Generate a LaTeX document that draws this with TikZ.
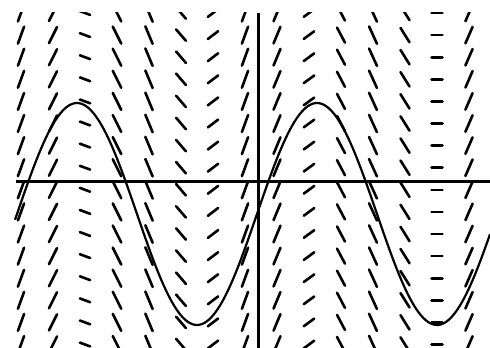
\documentclass[tikz,border=0pt]{standalone}
\begin{document}
\begin{tikzpicture}[
  x=1pt,y=-1pt,
  axis/.style={line width=3pt},
  curve/.style={line width=2.2pt,line join=round},
  slopemark/.style={line width=2.6pt,line cap=round}
]
\useasboundingbox (0,0) rectangle (490,348);
% slope field: column x / slope / segment length
\begin{scope}
\clip (0,12) rectangle (490,348);
\foreach \cx/\m/\len in {21/2.75/18, 53/2.0/18, 85/-0.37/11, 117/-2.0/19,
    149/-2.4/19, 181/-1.17/15, 213/0.76/13, 245/2.75/18, 277/2.4/18,
    309/0.73/13, 341/-1.9/17, 373/-2.2/19, 405/-1.6/17, 437/0/11, 469/2.3/18}{
  \foreach \k in {0,...,15}{
    \pgfmathsetmacro{\dx}{0.5*\len/sqrt(1+\m*\m)}
    \pgfmathsetmacro{\xa}{\cx-\dx}
    \pgfmathsetmacro{\xb}{\cx+\dx}
    \pgfmathsetmacro{\ya}{13+22.1*\k+\m*\dx}
    \pgfmathsetmacro{\yb}{13+22.1*\k-\m*\dx}
    \draw[slopemark] (\xa,\ya) -- (\xb,\yb);
  }
}
\end{scope}
% axes
\draw[axis] (16,181) -- (490,181);
\draw[axis] (258,13) -- (258,348);
% solution curve
\draw[curve] plot[domain=15:490,samples=200,smooth] (\x,{214-111*sin(1.5*(\x-17))});
\end{tikzpicture}
\end{document}
